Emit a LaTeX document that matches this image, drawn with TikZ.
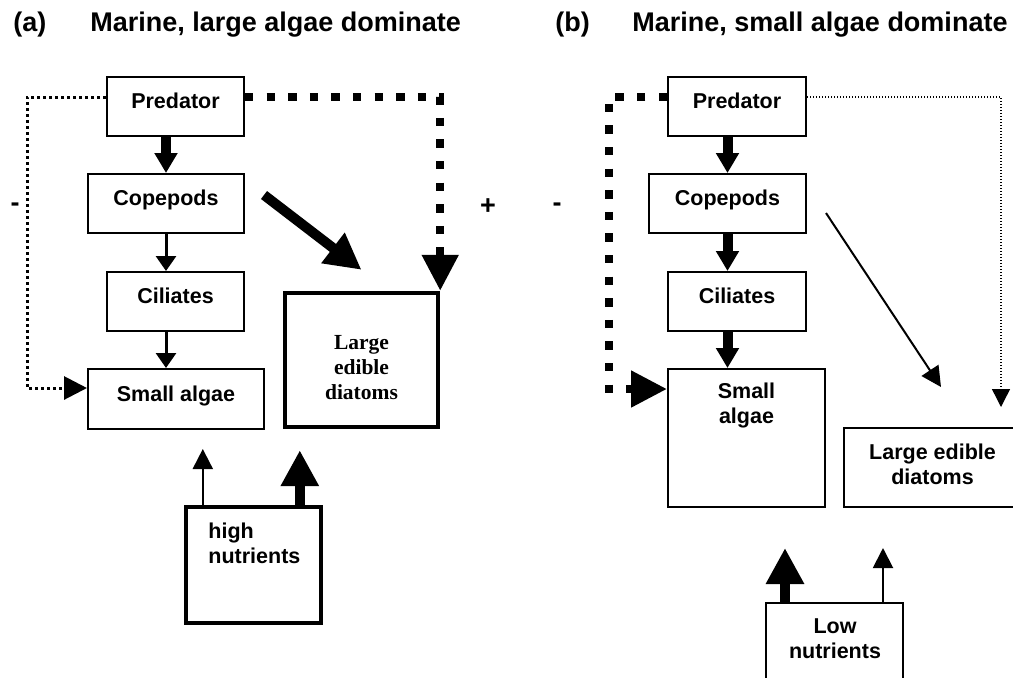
\documentclass[tikz,border=0pt]{standalone}
\usepackage{fontspec}
\setmainfont{Liberation Sans}
\newfontfamily\diatomfont{Liberation Serif}
\usetikzlibrary{arrows.meta}
\newcommand{\boxfont}{\fontsize{10.75}{12.5}\selectfont\bfseries}
\newcommand{\titlefont}{\fontsize{13.5}{16}\selectfont\bfseries}

\begin{document}
\begin{tikzpicture}[x=0.5pt, y=-0.5pt,
    box/.style={draw, line width=1pt, font=\boxfont, text height=8pt, text depth=6pt, inner sep=0pt},
    thickbox/.style={box, line width=2.2pt},
    lbl/.style={font=\boxfont, align=center, inner sep=0pt},
    bigflow/.style={line width=5pt, -{Triangle[width=11pt,length=10pt]}},
    midflow/.style={line width=1.5pt, -{Triangle[width=10pt,length=7.5pt]}},
    thinflow/.style={line width=1pt, -{Triangle[width=10pt,length=10pt]}},
    fatflow/.style={line width=5pt, -{Triangle[width=18pt,length=18pt]}},
    sqdots/.style={line width=4pt, dash pattern=on 4.2pt off 6.6pt, -{Triangle[width=17.5pt,length=18pt]}},
    finedots/.style={line width=1.5pt, dash pattern=on 1.5pt off 1.5pt, -{Triangle[width=11.5pt,length=11.5pt]}},
    hairdots/.style={line width=0.7pt, dash pattern=on 0.7pt off 0.8pt, -{Triangle[width=9pt,length=9pt]}}]
    \useasboundingbox (0,0) rectangle (1013,677);
    % Titles
    \node[font=\titlefont, anchor=west, inner sep=0pt] (tagA) at (13,25) {(a)};
    \node[font=\titlefont, anchor=west, inner sep=0pt] (titleA) at (90,25) {Marine, large algae dominate};
    \node[font=\titlefont, anchor=west, inner sep=0pt] (tagB) at (555,25) {(b)};
    \node[font=\titlefont, anchor=west, inner sep=0pt] (titleB) at (632,25) {Marine, small algae dominate};
    % Panel (a) boxes
    \node[box, minimum width=68.5pt, minimum height=29.5pt] (predA) at (175.5,106.5) {Predator};
    \node[box, minimum width=78pt,   minimum height=29.5pt] (copA)  at (166,203.5)   {Copepods};
    \node[box, minimum width=68.5pt, minimum height=29.5pt] (ciliA) at (175.5,301.5) {Ciliates};
    \node[box, minimum width=88pt,   minimum height=30pt]   (smallA) at (176,399)    {Small algae};
    \node[thickbox, minimum width=76.5pt, minimum height=67pt] (diatA) at (361.5,360) {};
    \node[lbl, font=\diatomfont\fontsize{10.75}{12.5}\selectfont\bfseries] (diatAtxt) at (361.5,368) {Large\\edible\\diatoms};
    \node[thickbox, minimum width=67.5pt, minimum height=58pt] (nutA) at (253.5,565) {};
    \node[lbl, align=left, anchor=west] (nutAtxt) at (208,543) {high\\nutrients};
    % Panel (a) flows
    \draw[bigflow] (copA.north |- predA.south) -- (copA.north);
    \draw[midflow] (copA.south) -- (copA.south |- ciliA.north);
    \draw[midflow] (copA.south |- ciliA.south) -- (copA.south |- smallA.north);
    \draw[fatflow] ([xshift=9.5pt,yshift=4.25pt]copA.east) -- ([yshift=10.5pt]diatA.north);
    \draw[finedots] ([yshift=4.75pt]predA.west) -- ++(-79,0) |- ([yshift=5.5pt]smallA.west);
    \draw[sqdots] ([yshift=4.75pt]predA.east) -| (diatA.north east);
    \coordinate (nA1) at ([xshift=9.5pt]nutA.north west);
    \coordinate (nA2) at ([xshift=58pt]nutA.north west);
    \draw[thinflow, shorten >=9.5pt] (nA1) -- (nA1 |- smallA.south);
    \draw[fatflow, shorten >=10.5pt] (nA2) -- (nA2 |- diatA.south);
    \node[font=\titlefont] (minusA) at (15,207) {-};
    \node[font=\titlefont] (plusA) at (488,207) {+};
    % Panel (b) boxes
    \node[box, minimum width=69pt,   minimum height=29.5pt] (predB) at (737,106.5)   {Predator};
    \node[box, minimum width=78.5pt, minimum height=29.5pt] (copB)  at (727.5,203.5) {Copepods};
    \node[box, minimum width=69pt,   minimum height=29.5pt] (ciliB) at (737,301.5)   {Ciliates};
    \node[box, minimum width=78.5pt, minimum height=69pt] (smallB) at (746.5,438) {};
    \node[lbl] (smallBtxt) at (746.5,405) {Small\\algae};
    \node[box, minimum width=88.5pt, minimum height=39.5pt] (diatB) at (932.5,467.5) {};
    \node[lbl] (diatBtxt) at (932.5,464) {Large edible\\diatoms};
    \node[box, minimum width=68.5pt, minimum height=50pt] (lowB) at (834.5,653) {};
    \node[lbl] (lowBtxt) at (835,639) {Low\\nutrients};
    % Panel (b) flows
    \draw[bigflow] (copB.north |- predB.south) -- (copB.north);
    \draw[bigflow] (copB.south) -- (copB.south |- ciliB.north);
    \draw[bigflow] (copB.south |- ciliB.south) -- (copB.south |- smallB.north);
    \draw[thinflow] ([xshift=9.5pt,yshift=-4.75pt]copB.east) -- ([xshift=49pt,yshift=20pt]diatB.north west);
    \draw[sqdots] ([yshift=4.75pt]predB.west) -- ++(-58,0) |- ([yshift=-10.5pt]smallB.north west);
    \coordinate (tipB) at (1001,407);
    \draw[hairdots] ([yshift=4.75pt]predB.east) -| (tipB);
    \coordinate (nB1) at ([xshift=10pt]lowB.north west);
    \coordinate (nB2) at ([xshift=59pt]lowB.north west);
    \draw[fatflow, shorten >=20pt] (nB1) -- (nB1 |- smallB.south);
    \draw[thinflow, shorten >=20pt] (nB2) -- (nB2 |- diatB.south);
    \node[font=\titlefont] (minusB) at (557,207) {-};
\end{tikzpicture}
\end{document}
